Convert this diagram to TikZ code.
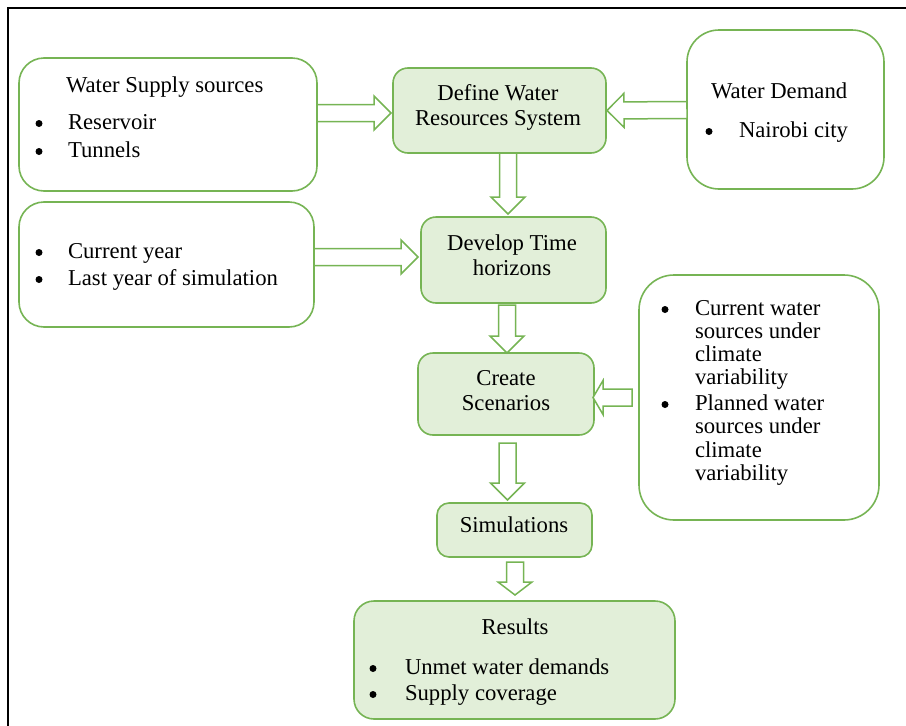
\documentclass[tikz,border=0pt]{standalone}
\usepackage{fontspec}
\setmainfont{Liberation Serif}
\usetikzlibrary{calc}

\definecolor{boxline}{RGB}{118,180,84}
\definecolor{boxfill}{RGB}{226,239,217}

\tikzset{
  box/.style={draw=boxline, line width=1.6pt, inner sep=0pt, outer sep=0pt},
  whitebox/.style={box, fill=white},
  greenbox/.style={box, fill=boxfill},
  blockarr/.style={draw=boxline, fill=white, line width=1.5pt, line join=miter},
  txt/.style={inner sep=0pt, outer sep=0pt, font=\fontsize{22.7}{27}\selectfont},
  ltxt/.style={txt, anchor=base west},
  ctxt/.style={txt, anchor=base},
  bulletdot/.style={circle, fill=black, inner sep=0pt, minimum size=7pt},
}

% hollow block arrow between two points; optional argument = head length
\newcommand\blockarrow[3][17]{%
  \draw[blockarr] let \p1=(#2), \p2=(#3),
      \n1={veclen(\x2-\x1,\y2-\y1)},
      \n2={(\x2-\x1)/\n1}, \n3={(\y2-\y1)/\n1}, \n4={\n1-#1} in
    ({\x1-8.5*\n3},{\y1+8.5*\n2}) --
    ({\x1+\n4*\n2-8.5*\n3},{\y1+\n4*\n3+8.5*\n2}) --
    ({\x1+\n4*\n2-17*\n3},{\y1+\n4*\n3+17*\n2}) --
    (\p2) --
    ({\x1+\n4*\n2+17*\n3},{\y1+\n4*\n3-17*\n2}) --
    ({\x1+\n4*\n2+8.5*\n3},{\y1+\n4*\n3-8.5*\n2}) --
    ({\x1+8.5*\n3},{\y1-8.5*\n2}) -- cycle;
}

% bulleted line: name, bullet x, text x, baseline y, text
\newcommand\bitem[5]{%
  \node[bulletdot] (#1b) at (#2,-#4+5.5) {};
  \node[ltxt] (#1) at (#3,-#4) {#5};
}

\begin{document}
\begin{tikzpicture}[x=1pt,y=1pt]
\useasboundingbox (0,0) rectangle (906,-726);

% frame
\draw[line width=2pt] (906,-8) -- (8,-8) -- (8,-726);

% boxes
\node[whitebox, rounded corners=25pt, minimum width=298pt, minimum height=133pt] (wss) at (168,-124.5) {};
\node[greenbox, rounded corners=15pt, minimum width=213pt, minimum height=85pt] (dws) at (499.5,-110.5) {};
\node[whitebox, rounded corners=32pt, minimum width=197pt, minimum height=159pt] (wd) at (785.5,-109.5) {};
\node[whitebox, rounded corners=25pt, minimum width=295pt, minimum height=125pt] (cy) at (166.5,-264.5) {};
\node[greenbox, rounded corners=15pt, minimum width=185pt, minimum height=86pt] (dth) at (513.5,-260) {};
\node[greenbox, rounded corners=15pt, minimum width=176pt, minimum height=82pt] (cs) at (506,-394) {};
\node[whitebox, rounded corners=35pt, minimum width=240pt, minimum height=245pt] (cv) at (759,-397.5) {};
\node[greenbox, rounded corners=12pt, minimum width=155pt, minimum height=54pt] (sim) at (514.5,-530) {};
\node[greenbox, rounded corners=20pt, minimum width=321pt, minimum height=118pt] (res) at (514.5,-660) {};

% texts
\node[ltxt] (wsst) at (66,-92) {Water Supply sources};
\bitem{wss1}{39}{68}{129}{Reservoir}
\bitem{wss2}{39}{68}{157}{Tunnels}

\node[ctxt] (dws1) at (498,-100) {Define Water};
\node[ctxt] (dws2) at (498,-125) {Resources System};

\node[ltxt] (wdt) at (711,-98) {Water Demand};
\bitem{wd1}{709}{739}{137}{Nairobi city}

\bitem{cy1}{39}{68}{258}{Current year}
\bitem{cy2}{39}{68}{285}{Last year of simulation}

\node[ctxt] (dth1) at (512,-250) {Develop Time};
\node[ctxt] (dth2) at (512,-275) {horizons};

\node[ctxt] (cs1) at (506,-385) {Create};
\node[ctxt] (cs2) at (506,-410) {Scenarios};

\bitem{cv1}{665}{695}{315}{Current water}
\node[ltxt] (cv2) at (695,-338) {sources under};
\node[ltxt] (cv3) at (695,-361.5) {climate};
\node[ltxt] (cv4) at (695,-384) {variability};
\bitem{cv5}{665}{695}{410}{Planned water}
\node[ltxt] (cv6) at (695,-433.5) {sources under};
\node[ltxt] (cv7) at (695,-457) {climate};
\node[ltxt] (cv8) at (695,-480.5) {variability};

\node[ctxt] (simt) at (514,-532) {Simulations};

\node[ctxt] (rest) at (515,-634) {Results};
\bitem{res1}{373}{405}{674}{Unmet water demands}
\bitem{res2}{373}{405}{700}{Supply coverage}

% connectors
\blockarrow{[yshift=11.5pt]wss.east}{[xshift=-2pt,yshift=-2.5pt]dws.west}
\blockarrow{[yshift=-0.5pt]wd.west}{[xshift=1pt]dws.east}
\blockarrow{[xshift=8.5pt]dws.south}{[xshift=-5.5pt,yshift=3pt]dth.north}
\blockarrow{[yshift=7.5pt]cy.east}{[xshift=-3pt,yshift=3pt]dth.west}
\blockarrow{[xshift=-6.5pt,yshift=-2pt]dth.south}{[xshift=1pt]cs.north}
\blockarrow[10]{[xshift=-7pt]cv.west}{[xshift=-1pt,yshift=-3.5pt]cs.east}
\blockarrow{[xshift=1.5pt,yshift=-8pt]cs.south}{[xshift=-7pt,yshift=3pt]sim.north}
\blockarrow[13]{[xshift=0.5pt,yshift=-5pt]sim.south}{[xshift=0.5pt,yshift=6pt]res.north}
\end{tikzpicture}
\end{document}
